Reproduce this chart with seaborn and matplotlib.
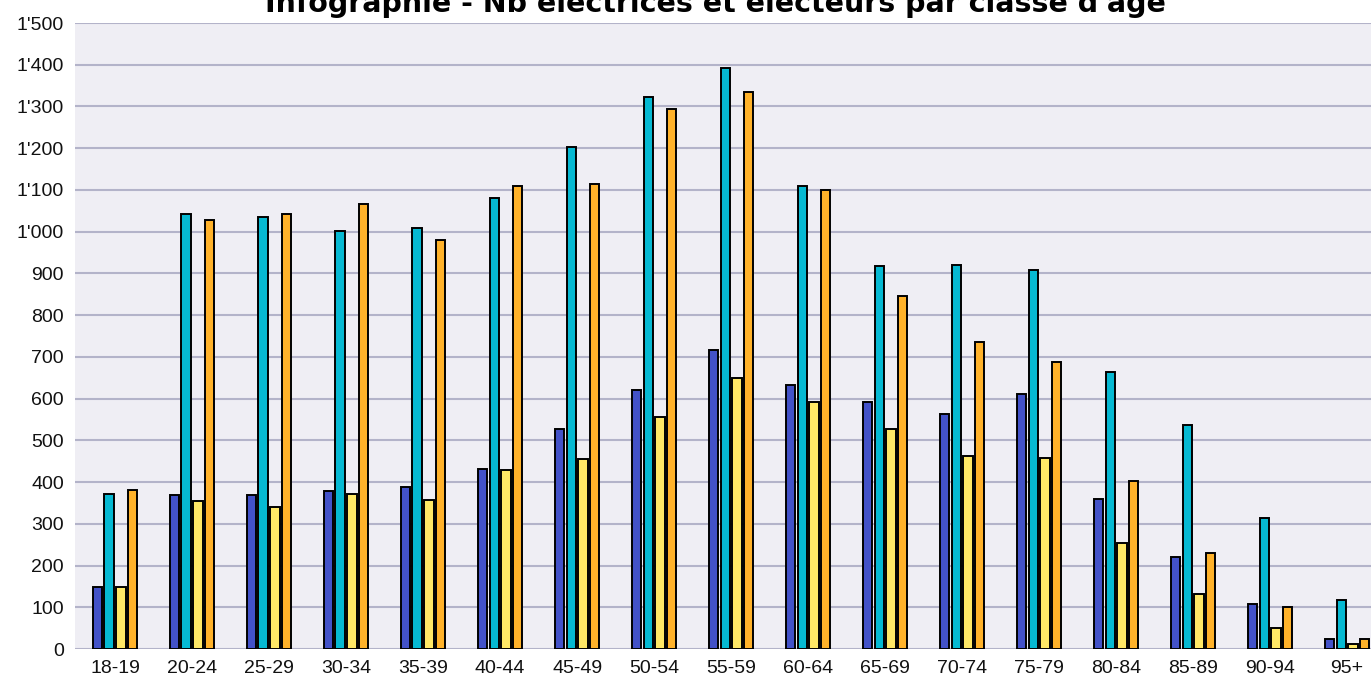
import matplotlib
matplotlib.use("Agg")
import matplotlib.pyplot as plt
import matplotlib.ticker as mticker
import pandas as pd
import seaborn as sns

age_classes = ["18-19", "20-24", "25-29", "30-34", "35-39", "40-44", "45-49", "50-54", "55-59",
               "60-64", "65-69", "70-74", "75-79", "80-84", "85-89", "90-94", "95+"]
votantes = [149, 370, 368, 378, 389, 432, 526, 620, 717, 632, 592, 563, 610, 360, 220, 109, 23]
electrices = [372, 1043, 1035, 1002, 1008, 1081, 1203, 1322, 1392, 1110, 918, 920, 908, 663, 537, 315, 118]
votants = [149, 355, 340, 372, 358, 428, 455, 556, 650, 592, 527, 462, 457, 253, 132, 50, 12]
electeurs = [380, 1028, 1043, 1066, 980, 1109, 1115, 1295, 1335, 1100, 846, 736, 688, 403, 229, 100, 25]

series_names = ["Votantes", "Électrices", "Votants", "Électeurs"]
series_colors = ["#4352C8", "#06B9D2", "#FFE866", "#FFB22A"]

df = pd.DataFrame({
    "classe": age_classes * 4,
    "serie": [s for s in series_names for _ in age_classes],
    "nb": votantes + electrices + votants + electeurs,
})

sns.set_theme(style="white")
plt.rcParams["font.family"] = ["Liberation Sans", "DejaVu Sans"]

fig = plt.figure(figsize=(13.71, 6.81), dpi=100)
ax = fig.add_axes([75 / 1371, 32 / 681, 1 - 75 / 1371, 626 / 681])
ax.set_facecolor("#EFEEF4")

sns.barplot(data=df, x="classe", y="nb", hue="serie", order=age_classes, hue_order=series_names,
            palette=series_colors, saturation=1, width=0.61, gap=0.2, edgecolor="black",
            linewidth=1.4, legend=False, ax=ax, zorder=3)

ax.set_ylim(0, 1500)
ax.set_xlim(-0.52, 16.31)
ax.yaxis.set_major_locator(mticker.MultipleLocator(100))
ax.yaxis.set_major_formatter(mticker.FuncFormatter(lambda v, _: f"{int(v):,}".replace(",", "'")))
ax.grid(axis="y", color="#B3B3C9", linewidth=1.5, zorder=0)
ax.set_axisbelow(True)
for s in ax.spines.values():
    s.set_visible(False)
ax.tick_params(axis="both", length=0, labelsize=14, labelcolor="#111111")
ax.tick_params(axis="x", pad=8)
ax.tick_params(axis="y", pad=8)
ax.set_xlabel("")
ax.set_ylabel("")

fig.text(0.522, 1 - 12 / 681, "Infographie - Nb électrices et électeurs par classe d'âge",
         ha="center", va="baseline", fontsize=20.5, fontweight="bold", color="black",
         family=["DejaVu Sans"])

fig.savefig("out.png", dpi=100)
